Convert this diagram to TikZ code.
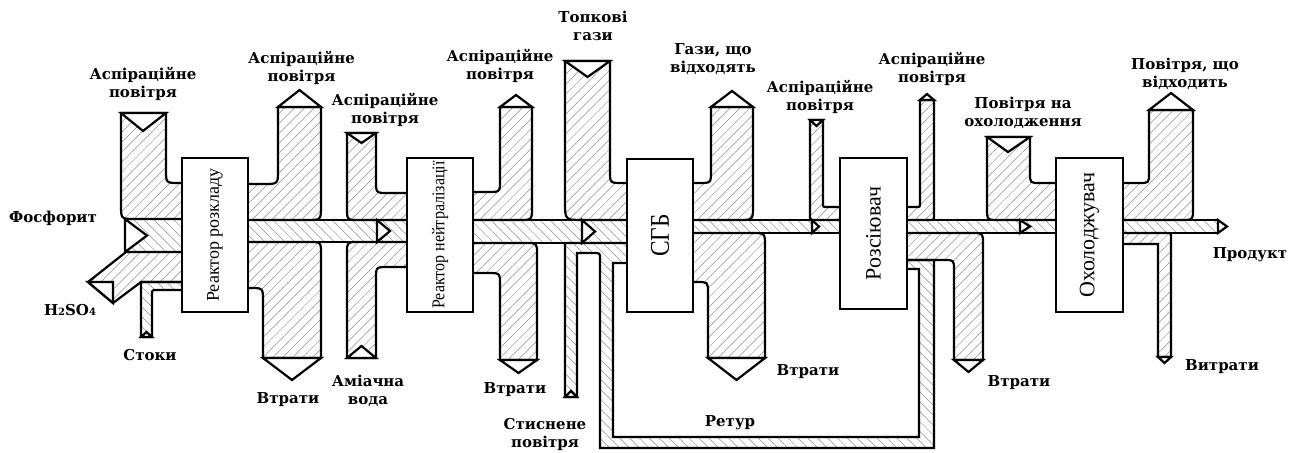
\documentclass[tikz,border=0pt]{standalone}
\usepackage{fontspec}
\setmainfont{Liberation Serif}
\newfontfamily\lblfont{DejaVu Serif}
\usetikzlibrary{patterns.meta}

\begin{document}
\begin{tikzpicture}[
  x=1pt, y=-1pt,
  unit/.style={draw, fill=white, line width=2.2pt, inner sep=0pt,
    minimum width=66pt, minimum height=154pt},
  flow/.style={draw, line width=2.2pt,
    pattern={Lines[angle=45,distance=7pt,line width=0.5pt]},
    pattern color=black!45},
  flowb/.style={flow,
    pattern={Lines[angle=-45,distance=7pt,line width=0.5pt]}},
  wedge/.style={draw, fill=white, line width=2.2pt},
  lbl/.style={font=\lblfont\bfseries\fontsize{15}{18}\selectfont,
    align=center, inner sep=0pt}
]
  \useasboundingbox (0,0) rectangle (1297,452);

  % streams of the decomposition reactor
  \path[flow] (121,113) -- (166,113) -- (166,170) .. controls (166,183) .. (179,183) -- (186,183) -- (186,219) -- (135,219) .. controls (121,219) .. (121,205) -- cycle;
  \path[flowb] (125,219) rectangle (186,252);
  \path[flow] (88,282) -- (126,252) -- (186,252) -- (186,282) -- (141,282) -- (113,303) -- cycle;
  \path[flowb] (186,282) -- (141,282) -- (141,337) -- (152,337) -- (152,295) .. controls (152,290) .. (157,290) -- (186,290) -- cycle;
  \path[flow] (244,184) -- (264,184) .. controls (278,184) .. (278,170) -- (278,107) -- (321,107) -- (321,206) .. controls (321,220) .. (307,220) -- (244,220) -- cycle;
  \path[flow] (244,242) -- (309,242) .. controls (321,242) .. (321,254) -- (321,358) -- (263,358) -- (263,301) .. controls (263,288) .. (250,288) -- (244,288) -- cycle;

  % streams of the neutralisation reactor
  \path[flowb] (244,220) rectangle (411,242);
  \path[flow] (347,133) -- (376,133) -- (376,181) .. controls (376,193) .. (388,193) -- (411,193) -- (411,220) -- (359,220) .. controls (347,220) .. (347,208) -- cycle;
  \path[flow] (347,358) -- (347,253) .. controls (347,242) .. (358,242) -- (411,242) -- (411,267) -- (388,267) .. controls (376,267) .. (376,279) -- (376,358) -- cycle;
  \path[flow] (469,192) -- (488,192) .. controls (500,192) .. (500,180) -- (500,107) -- (532,107) -- (532,207) .. controls (532,220) .. (519,220) -- (469,220) -- cycle;
  \path[flow] (469,243) -- (526,243) .. controls (537,243) .. (537,254) -- (537,360) -- (500,360) -- (500,285) .. controls (500,273) .. (488,273) -- (469,273) -- cycle;

  % streams of the SGB
  \path[flowb] (469,220) rectangle (631,243);
  \path[flow] (565,61) -- (610,61) -- (610,171) .. controls (610,183) .. (622,183) -- (631,183) -- (631,220) -- (583,220) .. controls (565,220) .. (565,202) -- cycle;
  \path[flowb] (565,243) -- (631,243) -- (631,263) -- (613,263) -- (613,437) -- (919,437) -- (919,269) -- (903,269) -- (903,260) -- (934,260) -- (934,448) -- (600,448) -- (600,259) .. controls (600,253) .. (594,253) -- (577,253) -- (577,397) -- (565,397) -- cycle;
  \path[flow] (689,183) -- (699,183) .. controls (711,183) .. (711,171) -- (711,107) -- (753,107) -- (753,206) .. controls (753,220) .. (739,220) -- (689,220) -- cycle;
  \path[flow] (689,233) -- (752,233) .. controls (765,233) .. (765,246) -- (765,358) -- (708,358) -- (708,293) .. controls (708,282) .. (697,282) -- (689,282) -- cycle;

  % streams of the disperser
  \path[flowb] (689,220) rectangle (844,233);
  \path[flow] (810,120) -- (823,120) -- (823,203) .. controls (823,207) .. (827,207) -- (844,207) -- (844,220) -- (810,220) -- cycle;
  \path[flow] (903,207) -- (916,207) .. controls (920,207) .. (920,203) -- (920,100) -- (934,100) -- (934,215) .. controls (934,220) .. (929,220) -- (903,220) -- cycle;
  \path[flow] (903,233) -- (972,233) .. controls (983,233) .. (983,244) -- (983,360) -- (954,360) -- (954,270) .. controls (954,260) .. (944,260) -- (903,260) -- cycle;

  % streams of the cooler
  \path[flowb] (903,220) rectangle (1060,233);
  \path[flow] (987,137) -- (1030,137) -- (1030,173) .. controls (1030,183) .. (1040,183) -- (1060,183) -- (1060,220) -- (999,220) .. controls (987,220) .. (987,208) -- cycle;
  \path[flow] (1119,183) -- (1139,183) .. controls (1149,183) .. (1149,173) -- (1149,110) -- (1193,110) -- (1193,208) .. controls (1193,220) .. (1181,220) -- (1119,220) -- cycle;
  \path[flowb] (1119,220) rectangle (1218,233);
  \path[flow] (1119,233) -- (1166,233) .. controls (1171,233) .. (1171,238) -- (1171,357) -- (1158,357) -- (1158,244) -- (1119,244) -- cycle;

  % apparatus
  \node[unit] (r1) at (215,235) {\rotatebox{90}{\fontsize{18}{18}\selectfont Реактор розкладу}};
  \node[unit] (r2) at (440,235) {\rotatebox{90}{\scalebox{0.89}[1]{\fontsize{18}{18}\selectfont Реактор нейтралізації}}};
  \node[unit, minimum height=153pt] (sgb) at (660,235.5) {\rotatebox{90}{\scalebox{0.87}[1]{\fontsize{27}{27}\selectfont СГБ}}};
  \node[unit, minimum width=67pt, minimum height=151pt] (rozs) at (873.5,233.5) {\rotatebox{90}{\fontsize{22}{22}\selectfont Розсіювач}};
  \node[unit, minimum width=67pt] (okh) at (1089.5,235) {\rotatebox{90}{\fontsize{22}{22}\selectfont Охолоджувач}};

  % inlet notches
  \path[wedge] (121,113) -- (143,131) -- (166,113) -- cycle;
  \path[wedge] (125,219) -- (147,235.5) -- (125,252) -- cycle;
  \path[wedge] (88,282) -- (113,282) -- (113,303) -- cycle;
  \path[wedge] (347,133) -- (361.5,143) -- (376,133) -- cycle;
  \path[wedge] (347,358) -- (361.5,346) -- (376,358) -- cycle;
  \path[wedge] (565,61) -- (587.5,77) -- (610,61) -- cycle;
  \path[wedge] (565,397) -- (571,391) -- (577,397) -- cycle;
  \path[wedge] (810,120) -- (816.5,126) -- (823,120) -- cycle;
  \path[wedge] (987,137) -- (1008,152) -- (1030,137) -- cycle;
  \path[wedge] (141,337) -- (146.5,332) -- (152,337) -- cycle;

  % outlet tips
  \path[wedge] (278,107) -- (299.5,90) -- (321,107) -- cycle;
  \path[wedge] (263,358) -- (292,380) -- (321,358) -- cycle;
  \path[wedge] (500,107) -- (516,95) -- (532,107) -- cycle;
  \path[wedge] (500,360) -- (518.5,373) -- (537,360) -- cycle;
  \path[wedge] (711,107) -- (732,91) -- (753,107) -- cycle;
  \path[wedge] (708,358) -- (736.5,380) -- (765,358) -- cycle;
  \path[wedge] (920,100) -- (927,94) -- (934,100) -- cycle;
  \path[wedge] (954,360) -- (968.5,372) -- (983,360) -- cycle;
  \path[wedge] (1149,110) -- (1171,93) -- (1193,110) -- cycle;
  \path[wedge] (1158,357) -- (1164.5,363) -- (1171,357) -- cycle;
  \path[wedge] (1218,220) -- (1227,226.5) -- (1218,233) -- cycle;

  % joints on the main line
  \path[wedge] (377,220) -- (390,231) -- (377,242) -- cycle;
  \path[wedge] (582,220) -- (595,231.5) -- (582,243) -- cycle;
  \path[wedge] (812,220) -- (819,226.5) -- (812,233) -- cycle;
  \path[wedge] (1020,220) -- (1030,226.5) -- (1020,233) -- cycle;

  % labels
  \node[lbl] (tAsp1) at (143,84) {Аспіраційне\\повітря};
  \node[lbl] (tFos) at (53,218) {Фосфорит};
  \node[lbl] (tAcid) at (70,310) {H{\fontsize{10}{10}\selectfont 2}SO{\fontsize{10}{10}\selectfont 4}};
  \node[lbl] (tDrain) at (150,355) {Стоки};
  \node[lbl] (tAsp2) at (301.5,67.5) {Аспіраційне\\повітря};
  \node[lbl] (tAsp3) at (385,110) {Аспіраційне\\повітря};
  \node[lbl] (tLoss1) at (288,400) {Втрати};
  \node[lbl] (tAmm) at (368,391) {Аміачна\\вода};
  \node[lbl] (tAsp4) at (500,66) {Аспіраційне\\повітря};
  \node[lbl] (tFurn) at (593,26) {Топкові\\гази};
  \node[lbl] (tLoss2) at (515,390) {Втрати};
  \node[lbl] (tComp) at (545,434) {Стиснене\\повітря};
  \node[lbl] (tGas) at (713,59) {Гази, що\\відходять};
  \node[lbl] (tLoss3) at (808,372) {Втрати};
  \node[lbl] (tRet) at (730,423) {Ретур};
  \node[lbl] (tAsp5) at (820,97) {Аспіраційне\\повітря};
  \node[lbl] (tAsp6) at (932,69) {Аспіраційне\\повітря};
  \node[lbl] (tLoss4) at (1019,383) {Втрати};
  \node[lbl] (tCool) at (1023,113) {Повітря на\\охолодження};
  \node[lbl] (tAir) at (1185,74) {Повітря, що\\відходить};
  \node[lbl] (tProd) at (1250,255) {Продукт};
  \node[lbl] (tLoss5) at (1222,367) {Витрати};
\end{tikzpicture}
\end{document}
